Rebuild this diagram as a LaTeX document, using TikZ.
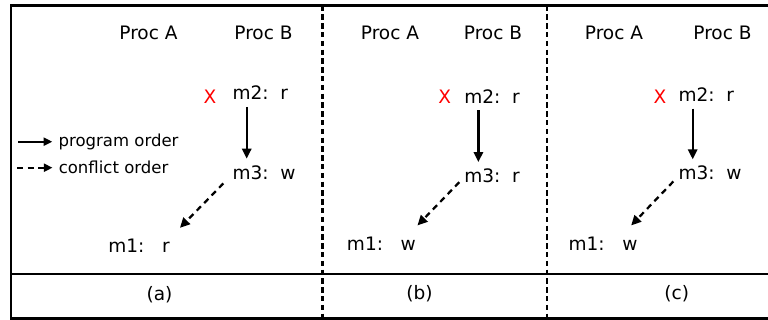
\documentclass[tikz,border=0pt]{standalone}
\usepackage{fontspec}
\setmainfont{DejaVu Sans}
\usetikzlibrary{arrows.meta,calc}

\begin{document}
\begin{tikzpicture}[x=0.75pt, y=-0.75pt,
  every node/.style={inner sep=0pt, font=\fontsize{13.9}{16}\selectfont},
  proc/.style={anchor=base},
  op/.style={anchor=base west, inner ysep=5pt},
  abort/.style={anchor=base, text=red},
  caption/.style={anchor=base},
  legend/.style={anchor=west, font=\fontsize{12.4}{15}\selectfont},
  frameline/.style={line width=1.9pt},
  sepline/.style={line width=1.9pt, dash pattern=on 4pt off 2.6pt},
  progorder/.style={line width=1.7pt, -{Triangle[length=7.5pt,width=7pt]}},
  conforder/.style={progorder, dash pattern=on 4.5pt off 3.5pt},
  legendtip/.style={-{Triangle[length=6.5pt,width=6pt]}}]
  \useasboundingbox (0,0) rectangle (768,320);
  % Outer frame, caption row and panel separators
  \draw[frameline] (768,5.7) -- (11,5.7) -- (11,318.3) -- (768,318.3);
  \draw[frameline] (11,273.8) -- (768,273.8);
  \draw[sepline] (322.3,5.7) -- (322.3,318.3);
  \draw[sepline] (547,5.7) -- (547,318.3);
  % Legend
  \coordinate (prog-from) at (18,141.7);
  \coordinate (conf-from) at (17,167.7);
  \node[legend] (prog-text) at (58.3,141.7) {program order};
  \node[legend] (conf-text) at (58.5,167.7) {conflict order};
  \draw[progorder, legendtip, shorten >=4.5pt] (prog-from) -- (prog-text.west);
  \draw[conforder, legendtip, shorten >=4.5pt] (conf-from) -- (conf-text.west);
  % Panel (a)
  \node[proc] (a-proca) at (148.5,39.5) {Proc A};
  \node[proc] (a-procb) at (263.5,39.5) {Proc B};
  \node[abort] (a-x) at (210,103.5) {X};
  \node[op] (a-m2) at (232.3,100) {m2:~~r};
  \node[op] (a-m3) at (232.3,179.3) {m3:~~w};
  \node[op] (a-m1) at (108,252.3) {m1:~~~r};
  \draw[progorder] ($(a-m2.south west)+(14.4,0)$) -- ($(a-m3.north west)+(14.4,0)$);
  \draw[conforder] ($(a-m3.south west)+(-9,-3)$) -- ($(a-m1.north east)+(10,-4)$);
  \node[caption] (a-cap) at (159.5,300.5) {(a)};
  % Panel (b)
  \node[proc] (b-proca) at (390,39.5) {Proc A};
  \node[proc] (b-procb) at (493,39.5) {Proc B};
  \node[abort] (b-x) at (444.7,104) {X};
  \node[op] (b-m2) at (464,103.3) {m2:~~r};
  \node[op] (b-m3) at (464,182.7) {m3:~~r};
  \node[op] (b-m1) at (346.7,251) {m1:~~~w};
  \draw[progorder] ($(b-m2.south west)+(14.4,0)$) -- ($(b-m3.north west)+(14.4,0)$);
  \draw[conforder] ($(b-m3.south west)+(-4.7,-7.7)$) -- ($(b-m1.north east)+(1.3,-5.1)$);
  \node[caption] (b-cap) at (419.5,299.5) {(b)};
  % Panel (c)
  \node[proc] (c-proca) at (614,39.5) {Proc A};
  \node[proc] (c-procb) at (722.5,39.5) {Proc B};
  \node[abort] (c-x) at (660,103.3) {X};
  \node[op] (c-m2) at (678.3,101.7) {m2:~~r};
  \node[op] (c-m3) at (678.3,180) {m3:~~w};
  \node[op] (c-m1) at (568.3,250.7) {m1:~~~w};
  \draw[progorder] ($(c-m2.south west)+(14.4,0)$) -- ($(c-m3.north west)+(14.4,0)$);
  \draw[conforder] ($(c-m3.south west)+(-5,-5.7)$) -- ($(c-m1.north east)+(-6.6,-4.8)$);
  \node[caption] (c-cap) at (676.7,299.5) {(c)};
\end{tikzpicture}
\end{document}
